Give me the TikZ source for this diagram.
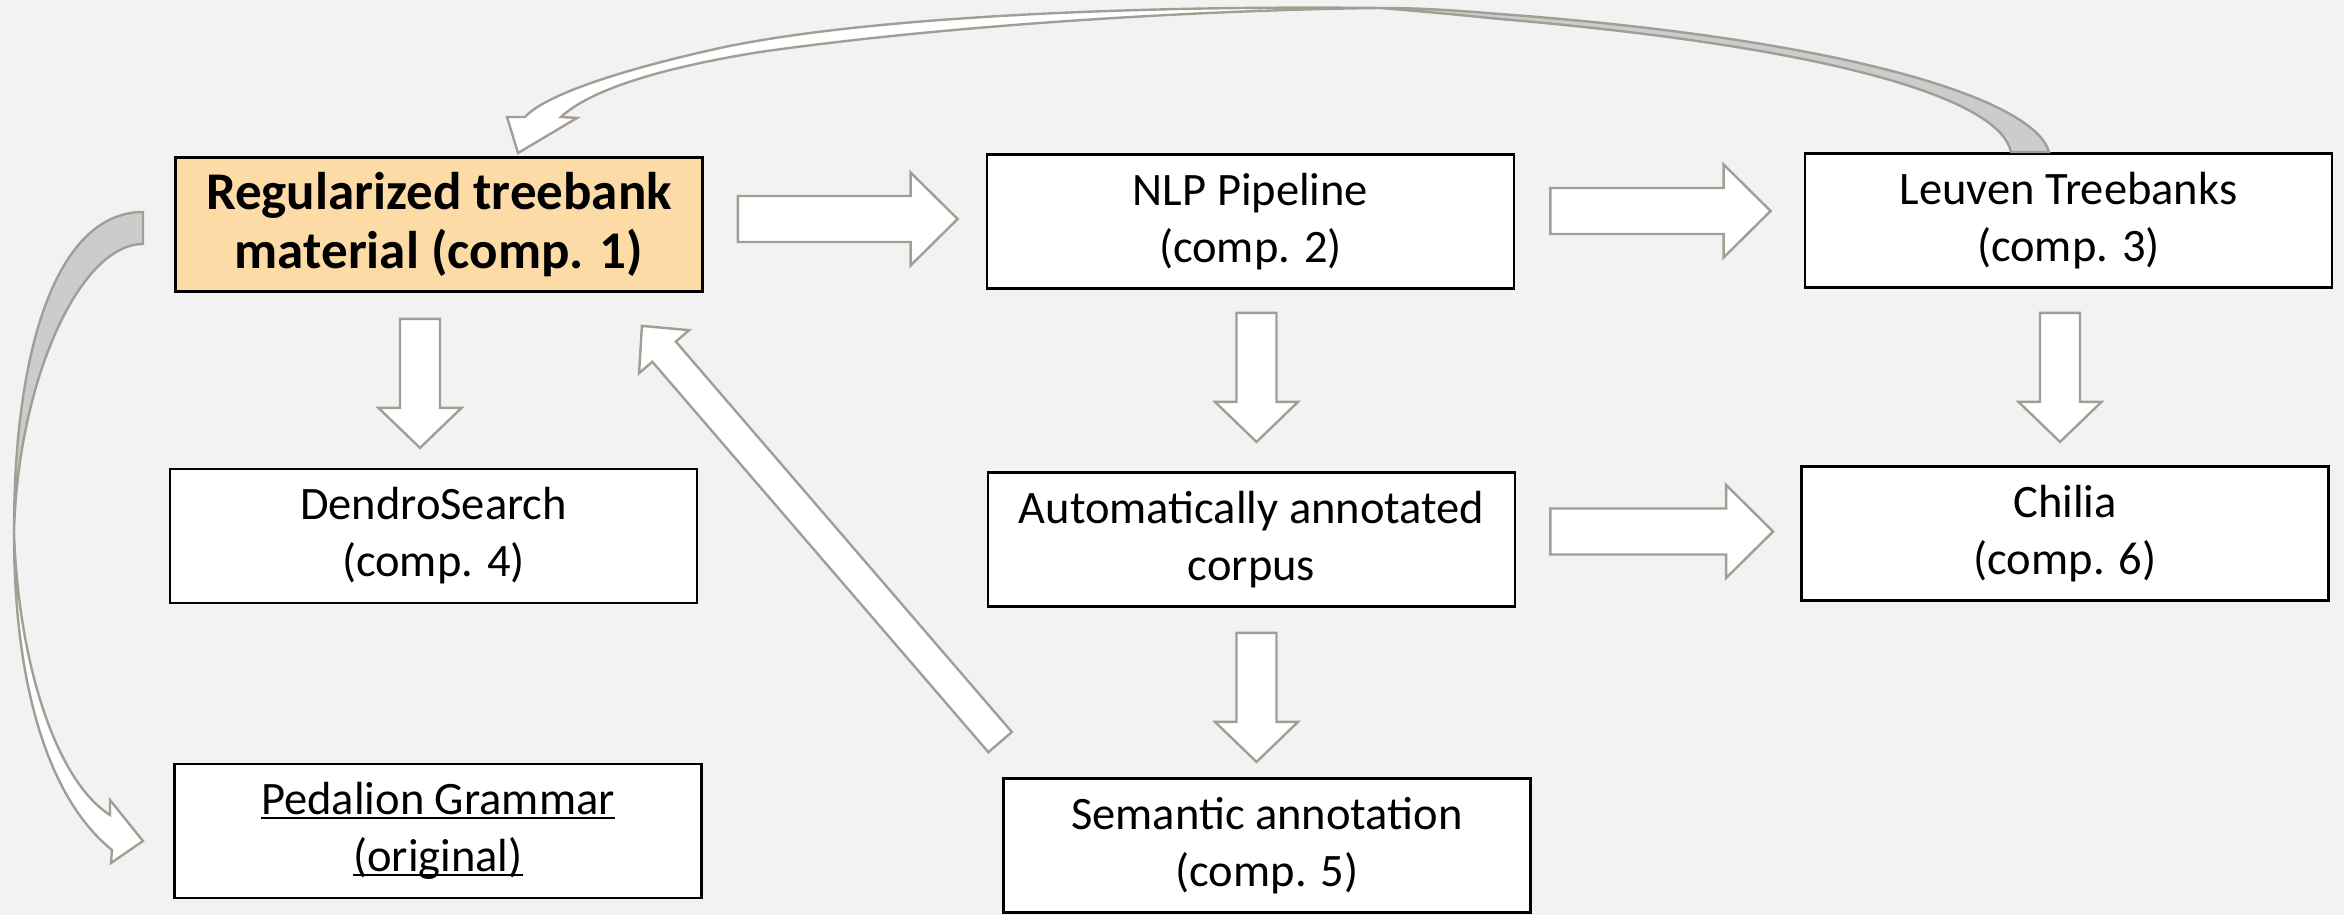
\documentclass[tikz,border=0pt]{standalone}
\usepackage{fontspec}
\setmainfont{Carlito}
\usetikzlibrary{calc}
\definecolor{bgc}{HTML}{F2F2F2}
\definecolor{arrline}{HTML}{A39D94}
\definecolor{arrgray}{HTML}{CCCCCC}
\definecolor{orangefill}{HTML}{FCDBA7}
\newcommand\ulx[1]{\setbox0\hbox{#1}\rlap{\rule[-2.2pt]{\wd0}{1pt}}\box0}
\newcommand\blockarrow[5]{%
  \draw[blk] let \p1=(#1), \p2=(#2), \n1={atan2(\y2-\y1,\x2-\x1)} in
    ($(\p1)+(\n1+90:#3)$) --
    ($(\p2)+(\n1+180:#5)+(\n1+90:#3)$) --
    ($(\p2)+(\n1+180:#5)+(\n1+90:#4)$) --
    (\p2) --
    ($(\p2)+(\n1+180:#5)+(\n1-90:#4)$) --
    ($(\p2)+(\n1+180:#5)+(\n1-90:#3)$) --
    ($(\p1)+(\n1-90:#3)$) -- cycle;}
\tikzset{
  box/.style={draw=black, line width=1.4pt, fill=white, minimum width=263.5pt,
    minimum height=67pt, inner sep=0pt, align=center,
    font=\fontsize{23.25pt}{28.5pt}\selectfont},
  mainbox/.style={box, fill=orangefill, font=\fontsize{26.5pt}{29.5pt}\selectfont\bfseries},
  blk/.style={draw=arrline, line width=1.2pt, fill=white, line join=miter},
  blkgray/.style={draw=arrline, line width=1.2pt, fill=arrgray, line join=miter},
}
\begin{document}
\begin{tikzpicture}[x=0.5pt, y=-0.5pt]
\fill[bgc] (0,0) rectangle (2344,915);
\useasboundingbox (0,0) rectangle (2344,915);

% boxes
\node[mainbox] (reg) at (439,224.5) {Regularized treebank\\material (comp. 1)};
\node[box] (nlp) at (1250.5,221.5) {NLP Pipeline\\(comp. 2)};
\node[box] (leu) at (2068.5,220.5) {Leuven Treebanks\\(comp. 3)};
\node[box] (den) at (433.5,536) {DendroSearch\\(comp. 4)};
\node[box] (aut) at (1251.5,539.5) {Automatically annotated\\corpus};
\node[box] (chi) at (2065,533.5) {Chilia\\(comp. 6)};
\node[box] (ped) at (438,831) {\ulx{Pedalion Grammar}\\\ulx{(original)}};
\node[box] (sem) at (1267,845.5) {Semantic annotation\\(comp. 5)};

% connector end points
\coordinate (a1) at ($(reg.east)+(34,-5.5)$);
\coordinate (a2) at ($(nlp.west)+(-28,-2.5)$);
\coordinate (b1) at ($(nlp.east)+(35,-10.5)$);
\coordinate (b2) at ($(leu.west)+(-33,-9.5)$);
\coordinate (c1) at ($(aut.east)+(34,-8)$);
\coordinate (c2) at ($(chi.west)+(-27,-2)$);
\coordinate (d1) at ($(reg.south)+(-19,26)$);
\coordinate (d2) at ($(d1)+(0,129)$);
\coordinate (e1) at ($(nlp.south)+(6,23)$);
\coordinate (e2) at ($(e1)+(0,129)$);
\coordinate (f1) at ($(leu.south)+(-8.5,24)$);
\coordinate (f2) at ($(f1)+(0,129)$);
\coordinate (g1) at ($(aut.south)+(5,25)$);
\coordinate (g2) at ($(g1)+(0,129)$);
\coordinate (h1) at ($(sem.north west)+(-2,-35)$);
\coordinate (h2) at ($(reg.south east)+(-62,33)$);

% straight block arrows
\blockarrow{a1}{a2}{11.5pt}{23.25pt}{23.5pt}
\blockarrow{b1}{b2}{11.5pt}{23.25pt}{23.5pt}
\blockarrow{c1}{c2}{11.5pt}{23.25pt}{23.5pt}
\blockarrow{d1}{d2}{10pt}{20.75pt}{20pt}
\blockarrow{e1}{e2}{10pt}{20.75pt}{20pt}
\blockarrow{f1}{f2}{10pt}{20.75pt}{20pt}
\blockarrow{g1}{g2}{10pt}{20.75pt}{20pt}
\blockarrow{h1}{h2}{7.75pt}{16.5pt}{17pt}

% curved arrow: Leuven Treebanks -> Regularized treebank material
\draw[blk] (1380,8) .. controls (1100,5) and (850,20) .. (720,48)
  .. controls (620,70) and (545,95) .. (525,117) -- (507,117) -- (518,153)
  -- (577,118) -- (561,117) .. controls (590,90) and (660,68) .. (760,52)
  .. controls (950,25) and (1200,10) .. (1380,8) -- cycle;
\draw[blkgray] (2049,152) .. controls (2035,100) and (1850,40) .. (1500,14)
  .. controls (1450,10) and (1420,8) .. (1380,8)
  .. controls (1430,12) and (1470,16) .. (1500,19)
  .. controls (1840,48) and (2000,100) .. (2011,152) -- cycle;

% curved arrow: Regularized treebank material -> Pedalion Grammar
\draw[blk] (14,532) .. controls (14,690) and (50,800) .. (112,850)
  -- (111,863) -- (143,841) -- (110,800) -- (110,815)
  .. controls (55,780) and (18,660) .. (14,532) -- cycle;
\draw[blkgray] (143,212) .. controls (60,212) and (14,340) .. (14,532)
  .. controls (18,380) and (80,244) .. (143,244) -- cycle;
\end{tikzpicture}
\end{document}
